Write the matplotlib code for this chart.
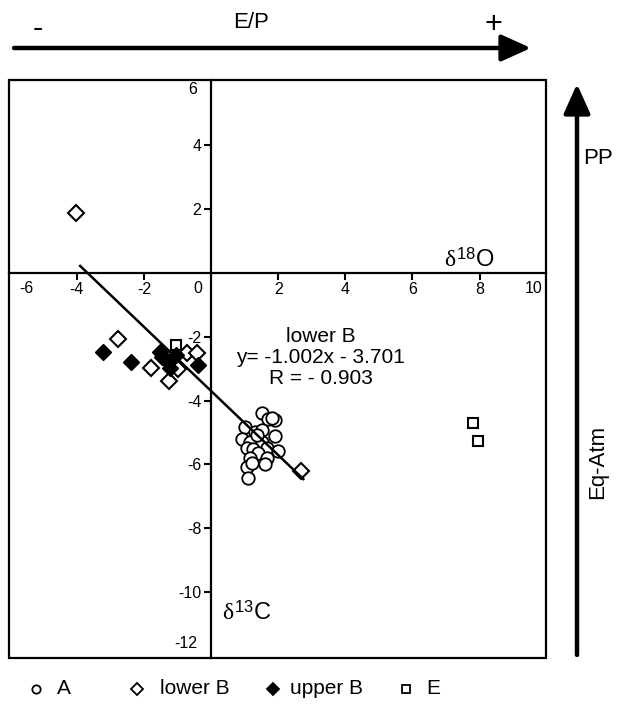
import matplotlib
matplotlib.use("Agg")
import matplotlib.pyplot as plt
from matplotlib.lines import Line2D
from matplotlib.patches import Rectangle
import numpy as np

plt.rcParams.update({
    "font.family": "Liberation Sans",
    "axes.unicode_minus": False,
    "mathtext.fontset": "custom",
    "mathtext.rm": "Liberation Sans",
    "mathtext.it": "Liberation Serif",
})

# ---------------------------------------------------------------------------
# Data (delta18O on x, delta13C on y)
# ---------------------------------------------------------------------------
a_x = [1.51, 1.71, 1.90, 1.81, 1.01, 1.31, 1.51, 0.91, 1.90, 1.16, 1.51, 1.36,
       1.06, 1.26, 1.66, 2.00, 1.41, 1.16, 1.66, 1.06, 1.61, 1.21, 1.11]
a_y = [-4.38, -4.59, -4.61, -4.56, -4.82, -4.97, -4.92, -5.20, -5.11, -5.29,
       -5.29, -5.08, -5.50, -5.53, -5.50, -5.57, -5.65, -5.81, -5.81, -6.09,
       -5.98, -5.94, -6.43]

lower_b_x = [-4.02, -2.78, -1.79, -1.25, -0.98, -0.72, -0.43, 2.68]
lower_b_y = [1.87, -2.08, -2.97, -3.39, -3.02, -2.52, -2.52, -6.20]

upper_b_x = [-3.21, -2.39, -1.52, -1.47, -1.30, -1.22, -1.04, -0.38]
upper_b_y = [-2.49, -2.80, -2.48, -2.63, -2.75, -2.99, -2.58, -2.89]

e_x = [-1.04, 7.81, 7.94]
e_y = [-2.27, -4.69, -5.27]

# regression for lower B
slope, intercept = -1.002, -3.701
fit_range = [-3.9, 2.75]

x_ticks = [-4, -2, 2, 4, 6, 8]
y_ticks = [-10, -8, -6, -4, -2, 2, 4]

W, H = 617, 707
TICK_FS = 11.5


def fx(px):
    return px / W


def fy(py):
    return 1 - py / H


fig = plt.figure(figsize=(W / 100, H / 100), dpi=100)
ax = fig.add_axes([fx(9), fy(658), fx(546) - fx(9), fy(80) - fy(658)])

ax.set_xlim(-6.02, 9.98)
ax.set_ylim(-12.05, 6.02)

# axes crossing at zero + outer frame
for side in ("top", "right"):
    ax.spines[side].set_visible(False)
ax.spines["left"].set_position(("data", 0))
ax.spines["bottom"].set_position(("data", 0))
for side in ("left", "bottom"):
    ax.spines[side].set_linewidth(1.6)
ax.add_patch(Rectangle((0, 0), 1, 1, transform=ax.transAxes, fill=False,
                       lw=1.6, edgecolor="black", clip_on=False, zorder=5))

ax.set_xticks(x_ticks)
ax.set_yticks(y_ticks)
ax.tick_params(direction="out", length=5, width=1.5, labelsize=TICK_FS, pad=2)

# edge labels that sit inside the frame
ax.text(-0.25, -0.25, "0", ha="right", va="top", fontsize=TICK_FS)
ax.text(-5.5, -0.25, "-6", ha="center", va="top", fontsize=TICK_FS)
ax.text(9.62, -0.25, "10", ha="center", va="top", fontsize=TICK_FS)
ax.text(-0.42, 5.72, "6", ha="right", va="center", fontsize=TICK_FS)
ax.text(-0.42, -11.6, "-12", ha="right", va="center", fontsize=TICK_FS)

# data
ax.plot(a_x, a_y, "o", ms=9, mfc="white", mec="black", mew=1.3, zorder=3)
ax.plot(lower_b_x, lower_b_y, "D", ms=8, mfc="white", mec="black", mew=1.5,
        zorder=3)
ax.plot(upper_b_x, upper_b_y, "D", ms=8, mfc="black", mec="black", zorder=4)
ax.plot(e_x, e_y, "s", ms=7.5, mfc="white", mec="black", mew=1.5, zorder=3)

fit_x = np.array(fit_range)
ax.plot(fit_x, slope * fit_x + intercept, color="black", lw=1.8, zorder=4)

ax.text(3.26, -2.66, f"lower B\ny= {slope}x - {abs(intercept)}\nR = - 0.903",
        ha="center", va="center", fontsize=15, linespacing=1.15)

ax.text(7.7, 0.18, r"$\delta^{18}$O", ha="center", va="baseline", fontsize=17)
ax.text(1.08, -10.86, r"$\delta^{13}$C", ha="center", va="baseline",
        fontsize=17)

# process arrows
arrow_style = "-|>,head_length=1.0,head_width=0.45"
ax.annotate("", xy=(fx(531), fy(48)), xytext=(fx(14), fy(48)),
            xycoords="figure fraction", textcoords="figure fraction",
            arrowprops=dict(arrowstyle=arrow_style, lw=3.2, color="black",
                            mutation_scale=18, shrinkA=0, shrinkB=0))
fig.text(fx(251), fy(23), "E/P", ha="center", va="center", fontsize=16)
fig.text(fx(38), fy(29), "-", ha="center", va="center", fontsize=22)
fig.text(fx(493), fy(25), "+", ha="center", va="center", fontsize=22)

ax.annotate("", xy=(fx(577), fy(84)), xytext=(fx(577), fy(655)),
            xycoords="figure fraction", textcoords="figure fraction",
            arrowprops=dict(arrowstyle=arrow_style, lw=3.2, color="black",
                            mutation_scale=18, shrinkA=0, shrinkB=0))
fig.text(fx(598), fy(158), "PP", ha="center", va="center", fontsize=16)
fig.text(fx(598), fy(462), "Eq-Atm", ha="center", va="center", fontsize=16,
         rotation=90)

# legend row
legend_items = [
    (36, 57, "o", "white", "A"),
    (137, 160, "D", "white", "lower B"),
    (273, 290, "D", "black", "upper B"),
    (406, 426, "s", "white", "E"),
]
for mx, tx, marker, face, label in legend_items:
    fig.add_artist(Line2D([fx(mx)], [fy(689)], marker=marker, ms=6,
                          mfc=face, mec="black", mew=1.3, linestyle="none",
                          transform=fig.transFigure))
    fig.text(fx(tx), fy(689), label, ha="left", va="center", fontsize=15)

fig.savefig("out.png", dpi=100)
